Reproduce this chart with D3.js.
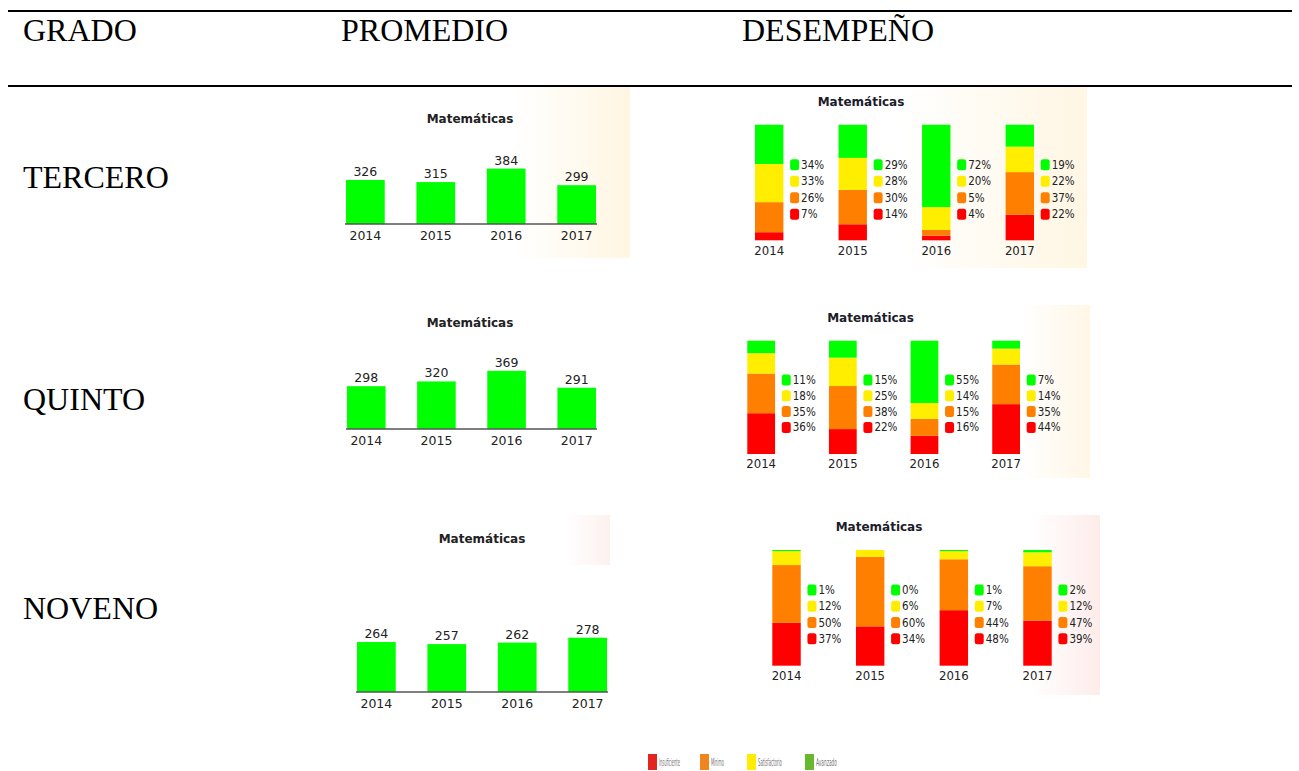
<!DOCTYPE html>
<html>
<head>
<meta charset="utf-8">
<script src="https://cdn.jsdelivr.net/npm/d3@7"></script>
<style>
  body { margin: 0; background: #fff; }
  svg { display: block; }
</style>
</head>
<body>
<div id="chart"></div>
<script>
// data
const years = ["2014", "2015", "2016", "2017"];
const headers = ["GRADO", "PROMEDIO", "DESEMPEÑO"];
const grades = ["TERCERO", "QUINTO", "NOVENO"];
const subject = "Matemáticas";

const promTercero = [326, 315, 384, 299];
const promQuinto = [298, 320, 369, 291];
const promNoveno = [264, 257, 262, 278];

// levels top to bottom: avanzado, satisfactorio, minimo, insuficiente
const levels = ["Avanzado", "Satisfactorio", "Mínimo", "Insuficiente"];
const desTercero = [[34, 33, 26, 7], [29, 28, 30, 14], [72, 20, 5, 4], [19, 22, 37, 22]];
const desQuinto = [[11, 18, 35, 36], [15, 25, 38, 22], [55, 14, 15, 16], [7, 14, 35, 44]];
const desNoveno = [[1, 12, 50, 37], [0, 6, 60, 34], [1, 7, 44, 48], [2, 12, 47, 39]];

const legendNames = ["Insuficiente", "Mínimo", "Satisfactorio", "Avanzado"];

const width = 1299;
const height = 771;
const levelColor = { "Avanzado": "#00ff00", "Satisfactorio": "#ffee00", "Mínimo": "#ff8000", "Insuficiente": "#ff0000" };
const legendColor = { "Insuficiente": "#e32522", "Mínimo": "#f0841e", "Satisfactorio": "#ffec00", "Avanzado": "#68b82f" };
const sans = "'DejaVu Sans', sans-serif";
const cond = "'DejaVu Sans Condensed', 'DejaVu Sans', sans-serif";
const serif = "'Liberation Serif', 'Times New Roman', serif";

const svg = d3.select("#chart").append("svg")
  .attr("width", width)
  .attr("height", height);

const defs = svg.append("defs");

function wash(id, x, y, w, h, color, start) {
  const g = defs.append("linearGradient").attr("id", id);
  g.append("stop").attr("offset", start).attr("stop-color", "#fff");
  g.append("stop").attr("offset", "100%").attr("stop-color", color);
  svg.append("rect")
    .attr("x", x).attr("y", y).attr("width", w).attr("height", h)
    .attr("fill", "url(#" + id + ")");
}

// faint background of the pasted pictures
wash("w1", 338, 87, 292, 171, "#fff6e2", "60%");
wash("w2", 748, 86, 339, 182, "#fff6e3", "45%");
wash("w3", 745, 305, 345, 173, "#fff6e6", "80%");
wash("w4", 745, 515, 355, 180, "#fdecea", "80%");
wash("w5", 520, 515, 90, 50, "#fdf1ee", "50%");

// table rules
svg.append("line").attr("x1", 8).attr("x2", 1292).attr("y1", 11).attr("y2", 11)
  .attr("stroke", "#000").attr("stroke-width", 2);
svg.append("line").attr("x1", 8).attr("x2", 1292).attr("y1", 86).attr("y2", 86)
  .attr("stroke", "#000").attr("stroke-width", 2);

const headX = [23, 341, 742];
svg.selectAll(".head")
  .data(headers)
  .enter()
  .append("text")
  .attr("x", (d, i) => headX[i])
  .attr("y", 41)
  .style("font-family", serif)
  .style("font-size", "32px")
  .text(d => d);

const gradeY = [188, 410, 619];
svg.selectAll(".grade")
  .data(grades)
  .enter()
  .append("text")
  .attr("x", 23)
  .attr("y", (d, i) => gradeY[i])
  .style("font-family", serif)
  .style("font-size", "32px")
  .text(d => d);

function promedio(values, opt) {
  const g = svg.append("g");

  const x = d3.scaleBand()
    .domain(years)
    .range([opt.x0, opt.x1])
    .paddingInner(0.45);

  const y = d3.scaleLinear()
    .domain([100, 500])
    .range([opt.base, opt.base - opt.h]);

  g.append("text")
    .attr("x", opt.tx).attr("y", opt.ty)
    .attr("text-anchor", "middle")
    .attr("dominant-baseline", "central")
    .style("font-family", sans)
    .style("font-weight", "bold")
    .style("font-size", "12px")
    .style("fill", "#222")
    .text(subject);

  g.selectAll("rect")
    .data(values)
    .enter()
    .append("rect")
    .attr("x", (d, i) => x(years[i]))
    .attr("y", d => y(d))
    .attr("width", x.bandwidth())
    .attr("height", d => opt.base - y(d))
    .style("fill", "#00ff00");

  g.selectAll(".val")
    .data(values)
    .enter()
    .append("text")
    .attr("x", (d, i) => x(years[i]) + x.bandwidth() / 2)
    .attr("y", d => y(d) - 4)
    .attr("text-anchor", "middle")
    .style("font-family", sans)
    .style("font-size", "12.5px")
    .style("fill", "#222")
    .text(d => d);

  const axis = g.append("g")
    .attr("transform", "translate(0," + opt.base + ")")
    .call(d3.axisBottom(x).tickSize(0).tickPadding(7));
  axis.select(".domain").attr("stroke", "#555").attr("stroke-width", 1.5)
    .attr("d", "M" + (opt.x0 - 1) + ",0H" + (opt.x1 + 1));
  axis.selectAll("text")
    .style("font-family", sans)
    .style("font-size", "12.5px")
    .style("fill", "#222");
}

function desempeno(rows, opt) {
  const g = svg.append("g");

  const table = rows.map((r, i) => {
    const o = { year: years[i] };
    levels.forEach((l, j) => { o[l] = r[j]; });
    return o;
  });

  // stacked bottom-up: insuficiente first
  const stack = d3.stack()
    .keys(levels.slice().reverse())
    .offset(d3.stackOffsetExpand);
  const series = stack(table);

  const x = d3.scaleBand()
    .domain(years)
    .range([opt.x0, opt.x1])
    .paddingInner(0.66);

  const y = d3.scaleLinear()
    .domain([0, 1])
    .range([opt.bottom, opt.top]);

  const row = d3.scaleBand()
    .domain(levels)
    .range([opt.top + opt.ly, opt.top + opt.ly + 4 * opt.ls]);

  g.append("text")
    .attr("x", opt.tx).attr("y", opt.ty)
    .attr("text-anchor", "middle")
    .attr("dominant-baseline", "central")
    .style("font-family", sans)
    .style("font-weight", "bold")
    .style("font-size", "12px")
    .style("fill", "#1c1c2a")
    .text(subject);

  g.selectAll(".layer")
    .data(series)
    .enter()
    .append("g")
    .style("fill", d => levelColor[d.key])
    .selectAll("rect")
    .data(d => d)
    .enter()
    .append("rect")
    .attr("x", d => x(d.data.year))
    .attr("y", d => y(d[1]))
    .attr("width", x.bandwidth())
    .attr("height", d => y(d[0]) - y(d[1]));

  table.forEach(d => {
    const lx = x(d.year) + x.bandwidth() + 6.7;
    const lg = g.append("g");
    lg.selectAll("rect")
      .data(levels)
      .enter()
      .append("rect")
      .attr("x", lx)
      .attr("y", l => row(l) + row.bandwidth() / 2 - 5.5)
      .attr("width", 9)
      .attr("height", 11)
      .attr("rx", 2.5)
      .style("fill", l => levelColor[l]);
    lg.selectAll("text")
      .data(levels)
      .enter()
      .append("text")
      .attr("x", lx + 11)
      .attr("y", l => row(l) + row.bandwidth() / 2)
      .attr("dominant-baseline", "central")
      .style("font-family", cond)
      .style("font-size", "11.5px")
      .style("fill", "#222")
      .text(l => d[l] + "%");
  });

  const axis = g.append("g")
    .attr("transform", "translate(0," + opt.bottom + ")")
    .call(d3.axisBottom(x).tickSize(0).tickPadding(5));
  axis.select(".domain").remove();
  axis.selectAll("text")
    .style("font-family", cond)
    .style("font-size", "13px")
    .style("fill", "#222");
}

promedio(promTercero, { x0: 346, x1: 596, base: 224, h: 78, tx: 470, ty: 119 });
promedio(promQuinto, { x0: 347, x1: 596, base: 429, h: 86.5, tx: 470, ty: 323 });
promedio(promNoveno, { x0: 357, x1: 607, base: 692, h: 122, tx: 482, ty: 539 });

desempeno(desTercero, { x0: 755, x1: 1034, top: 124.7, bottom: 240.3, ly: 31.7, ls: 16.5, tx: 861, ty: 102 });
desempeno(desQuinto, { x0: 747.3, x1: 1020, top: 340.7, bottom: 454, ly: 31.4, ls: 15.8, tx: 870.5, ty: 318 });
desempeno(desNoveno, { x0: 772.3, x1: 1051.7, top: 550, bottom: 665.7, ly: 31.8, ls: 16.3, tx: 879, ty: 527 });

// bottom legend, text squeezed sideways like the small pasted key
const legX = [648, 700, 747, 805];
const legW = [21, 13, 24, 21];
const leg = svg.append("g");
leg.selectAll("rect")
  .data(legendNames)
  .enter()
  .append("rect")
  .attr("x", (d, i) => legX[i])
  .attr("y", 754)
  .attr("width", 9)
  .attr("height", 16)
  .style("fill", d => legendColor[d]);
leg.selectAll("text")
  .data(legendNames)
  .enter()
  .append("text")
  .style("font-family", sans)
  .style("font-size", "11px")
  .style("fill", "#777")
  .text(d => d)
  .attr("transform", function(d, i) {
    const sx = legW[i] / this.getComputedTextLength();
    return "translate(" + (legX[i] + 11) + ",766) scale(" + sx + ",1)";
  });
</script>
</body>
</html>
